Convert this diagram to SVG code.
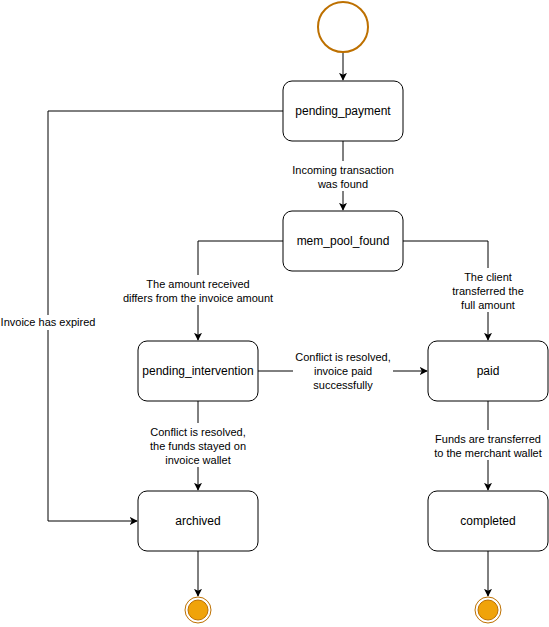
<svg xmlns="http://www.w3.org/2000/svg" width="549" height="627" viewBox="0 0 549 627">
<style>
.node rect{fill:#fff;stroke:#000;stroke-width:1}
.nt{font-family:"Liberation Sans",Arial,sans-serif;font-size:12px;text-anchor:middle;fill:#000}
.lt{font-family:"Liberation Sans",Arial,sans-serif;font-size:11px;text-anchor:middle;fill:#000}
.edge{fill:none;stroke:#000;stroke-width:1}
.lbg{fill:#fff}
</style>
<defs>
<marker id="arr" viewBox="0 0 10 10" refX="9" refY="5" markerWidth="8" markerHeight="8" markerUnits="userSpaceOnUse" orient="auto">
<path d="M0,0 L10,5 L0,10 L2.5,5 Z" fill="#000"/>
</marker>
</defs>
<rect width="549" height="627" fill="#fff"/>
<g id="connectors">
<path class="edge" d="M343,52 V80" marker-end="url(#arr)"/>
<path class="edge" d="M343,141 V210" marker-end="url(#arr)"/>
<path class="edge" d="M283,111 H48 V521 H137" marker-end="url(#arr)"/>
<path class="edge" d="M283,241 H198 V340" marker-end="url(#arr)"/>
<path class="edge" d="M403,241 H488 V340" marker-end="url(#arr)"/>
<path class="edge" d="M258,371 H427" marker-end="url(#arr)"/>
<path class="edge" d="M198,401 V490" marker-end="url(#arr)"/>
<path class="edge" d="M488,401 V490" marker-end="url(#arr)"/>
<path class="edge" d="M198,551 V596" marker-end="url(#arr)"/>
<path class="edge" d="M488,551 V596" marker-end="url(#arr)"/>
<g id="labels">
<rect class="lbg" x="288" y="161" width="110" height="30"/>
<text class="lt" x="343" y="174">Incoming transaction</text>
<text class="lt" x="343" y="188">was found</text>
<rect class="lbg" x="1" y="315" width="96" height="15"/>
<text class="lt" x="48" y="326">Invoice has expired</text>
<rect class="lbg" x="122" y="275" width="152" height="30"/>
<text class="lt" x="198" y="288">The amount received</text>
<text class="lt" x="198" y="302">differs from the invoice amount</text>
<rect class="lbg" x="454" y="268" width="68" height="44"/>
<text class="lt" x="488" y="281">The client</text>
<text class="lt" x="488" y="295">transferred the</text>
<text class="lt" x="488" y="309">full amount</text>
<rect class="lbg" x="293" y="349" width="100" height="44"/>
<text class="lt" x="343" y="361">Conflict is resolved,</text>
<text class="lt" x="343" y="375">invoice paid</text>
<text class="lt" x="343" y="389">successfully</text>
<rect class="lbg" x="145" y="423" width="106" height="44"/>
<text class="lt" x="198" y="436">Conflict is resolved,</text>
<text class="lt" x="198" y="450">the funds stayed on</text>
<text class="lt" x="198" y="464">invoice wallet</text>
<rect class="lbg" x="432" y="430" width="112" height="30"/>
<text class="lt" x="488" y="443">Funds are transferred</text>
<text class="lt" x="488" y="457">to the merchant wallet</text>
</g>
</g>
<g id="start"><circle cx="343" cy="27" r="25" fill="#fff" stroke="#BD7000" stroke-width="2"/></g>
<g id="pending_payment" class="node"><rect x="283" y="81" width="120" height="60" rx="9"/><text class="nt" x="343" y="115">pending_payment</text></g>
<g id="mem_pool_found" class="node"><rect x="283" y="211" width="120" height="60" rx="9"/><text class="nt" x="343" y="245">mem_pool_found</text></g>
<g id="pending_intervention" class="node"><rect x="138" y="341" width="120" height="60" rx="9"/><text class="nt" x="198" y="375">pending_intervention</text></g>
<g id="paid" class="node"><rect x="428" y="341" width="120" height="60" rx="9"/><text class="nt" x="488" y="375">paid</text></g>
<g id="archived" class="node"><rect x="138" y="491" width="120" height="60" rx="9"/><text class="nt" x="198" y="525">archived</text></g>
<g id="completed" class="node"><rect x="428" y="491" width="120" height="60" rx="9"/><text class="nt" x="488" y="525">completed</text></g>
<g id="end1"><circle cx="198" cy="610" r="13" fill="#fff" stroke="#BD7000" stroke-width="1"/><circle cx="198" cy="610" r="10" fill="#F0A30A" stroke="#BD7000" stroke-width="1"/></g>
<g id="end2"><circle cx="488" cy="610" r="13" fill="#fff" stroke="#BD7000" stroke-width="1"/><circle cx="488" cy="610" r="10" fill="#F0A30A" stroke="#BD7000" stroke-width="1"/></g>
</svg>
